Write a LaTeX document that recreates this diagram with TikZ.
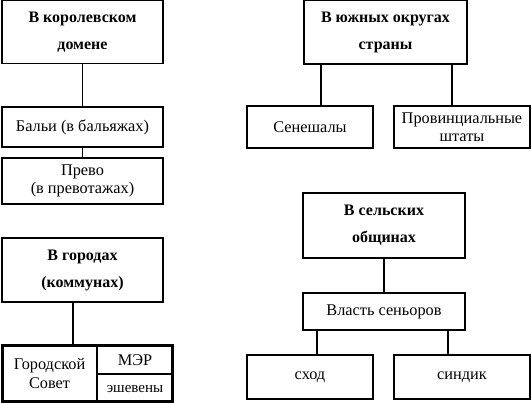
\documentclass[tikz,border=0pt]{standalone}
\usepackage{fontspec}
\setmainfont{Liberation Serif}
\begin{document}
\begin{tikzpicture}[x=1pt,y=-1pt,
  box/.style={draw, line width=1.6pt, inner sep=0pt, align=center, font=\fontsize{16.3}{18.5}\selectfont},
  head/.style={box, font=\fontsize{16}{27}\selectfont\bfseries},
  conn/.style={line width=1.6pt},
  txt/.style={inner sep=0pt, align=center, font=\fontsize{16.3}{18.5}\selectfont}]
\useasboundingbox (0,0) rectangle (531,403);
% royal domain
\node[head, minimum width=161, minimum height=63] (dom) at (82.5,32) {В королевском\\домене};
\node[box, minimum width=161, minimum height=40] (bal) at (82.5,127) {Бальи (в бальяжах)};
\node[box, minimum width=161, minimum height=46] (pre) at (82.5,181) {Прево\\(в превотажах)};
\draw[conn] (dom.south) -- (bal.north);
\draw[conn] (bal.south) -- (pre.north);
% towns
\node[head, minimum width=161, minimum height=64] (town) at (82.5,270) {В городах\\(коммунах)};
\node[draw, line width=2.6pt, minimum width=170, minimum height=56, inner sep=0pt] (city) at (87.5,373.5) {};
\coordinate (dv) at (97,0);
\draw[conn] (dv |- city.north) -- (dv |- city.south);
\coordinate (dh) at (0,374);
\draw[conn] (dv |- dh) -- (city.east |- dh);
\node[txt] (sov) at (49.5,373.5) {Городской\\Совет};
\node[txt] (mer) at (135,360) {МЭР};
\node[txt, font=\fontsize{15}{17}\selectfont] (esh) at (135,389) {эшевены};
\coordinate (tx) at (73,0);
\draw[conn] (tx |- town.south) -- (tx |- city.north);
% south
\node[head, minimum width=163, minimum height=64] (south) at (385.5,32) {В южных округах\\страны};
\node[box, minimum width=126, minimum height=42] (sen) at (310,127) {Сенешалы};
\node[box, minimum width=136, minimum height=42] (prov) at (462,127) {Провинциальные\\штаты};
\coordinate (s1) at (321,0);
\coordinate (s2) at (452,0);
\draw[conn] (s1 |- south.south) -- (s1 |- sen.north);
\draw[conn] (s2 |- south.south) -- (s2 |- prov.north);
% rural
\node[head, minimum width=162, minimum height=65] (rur) at (384,225.5) {В сельских\\общинах};
\node[box, minimum width=162, minimum height=37] (sen2) at (384,311.5) {Власть сеньоров};
\node[box, minimum width=126, minimum height=44] (shod) at (310,377) {сход};
\node[box, minimum width=136, minimum height=44] (sind) at (462,377) {синдик};
\draw[conn] (rur.south) -- (sen2.north);
\coordinate (r1) at (317,0);
\coordinate (r2) at (448,0);
\draw[conn] (r1 |- sen2.south) -- (r1 |- shod.north);
\draw[conn] (r2 |- sen2.south) -- (r2 |- sind.north);
\end{tikzpicture}
\end{document}
